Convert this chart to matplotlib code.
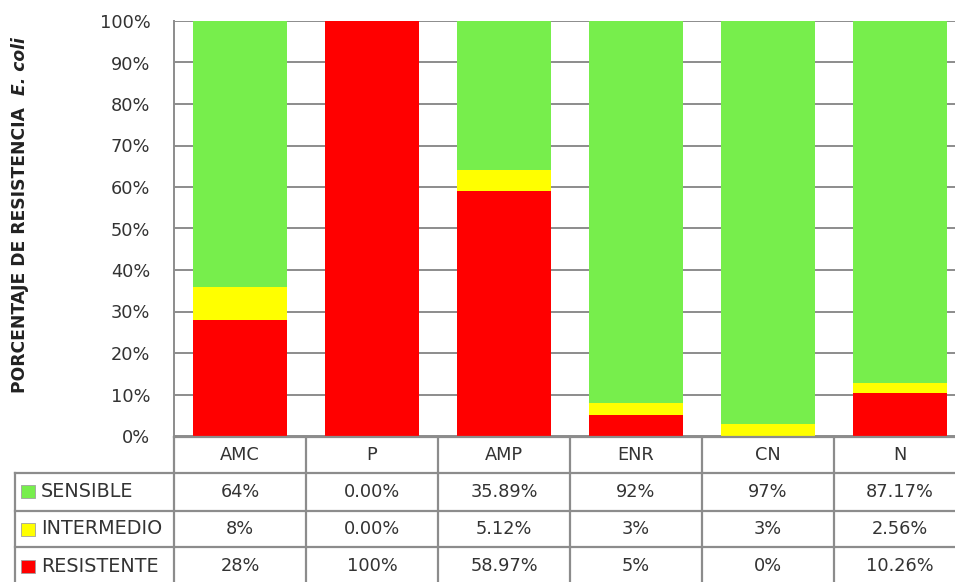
import numpy as np
import matplotlib.pyplot as plt
from matplotlib.patches import Rectangle

# datos
categorias = ['AMC', 'P', 'AMP', 'ENR', 'CN', 'N']
sensible = [64, 0.0, 35.89, 92, 97, 87.17]
intermedio = [8, 0.0, 5.12, 3, 3, 2.56]
resistente = [28, 100, 58.97, 5, 0, 10.26]
txt_sensible = ['64%', '0.00%', '35.89%', '92%', '97%', '87.17%']
txt_intermedio = ['8%', '0.00%', '5.12%', '3%', '3%', '2.56%']
txt_resistente = ['28%', '100%', '58.97%', '5%', '0%', '10.26%']
series = ['SENSIBLE', 'INTERMEDIO', 'RESISTENTE']

verde, amarillo, rojo = '#77EE4C', '#FFFF00', '#FF0000'
gris = '#8C8C8C'
texto = '#333333'

plt.rcParams['font.family'] = ['DejaVu Sans']

W, H = 955, 582
fig = plt.figure(figsize=(W / 100, H / 100), dpi=100)
ax = fig.add_axes([174 / W, 1 - 436 / H, (966 - 174) / W, (436 - 21) / H])

x = np.arange(len(categorias))
r = np.array(resistente)
i_ = np.array(intermedio)
s = np.array(sensible)
ax.bar(x, r, width=0.705, color=rojo, zorder=2)
ax.bar(x, i_, bottom=r, width=0.705, color=amarillo, zorder=2)
ax.bar(x, s, bottom=r + i_, width=0.705, color=verde, zorder=2)

ax.set_xlim(-0.5, len(categorias) - 0.5)
ax.set_ylim(0, 100)
ax.set_yticks(np.arange(0, 101, 10))
ax.set_yticklabels([f'{v}%' for v in range(0, 101, 10)], fontsize=12.8, color=texto)
ax.set_xticks([])
ax.tick_params(axis='y', length=0, pad=17)
ax.yaxis.grid(True, color=gris, lw=1.4)
ax.set_axisbelow(True)
for sp in ['top', 'right', 'bottom']:
    ax.spines[sp].set_visible(False)
ax.spines['left'].set_color(gris)
ax.spines['left'].set_linewidth(1.4)

# tabla de datos (coordenadas: x en categorias, y en pixeles)
tab = fig.add_axes([174 / W, 0, (966 - 174) / W, 1])
tab.set_xlim(-0.5, len(categorias) - 0.5)
tab.set_ylim(H, 0)
tab.axis('off')
tab.patch.set_alpha(0)

def px2x(px):
    return -0.5 + (px - 174) / 132.0

xl = px2x(15)
xr = len(categorias) - 0.5
y_head = 436.5
y_rows = [472.7, 511, 547]
y_end = 600
kw = dict(color=gris, lw=1.6, clip_on=False)
tab.plot([-0.5, xr], [y_head, y_head], **kw)
for yy in y_rows:
    tab.plot([xl, xr], [yy, yy], **kw)
tab.plot([xl, xl], [y_rows[0], y_end], **kw)
for k in range(len(categorias) + 1):
    tab.plot([k - 0.5, k - 0.5], [y_head, y_end], **kw)

fs = 12.8
y_centros = [(y_head + y_rows[0]) / 2, (y_rows[0] + y_rows[1]) / 2,
             (y_rows[1] + y_rows[2]) / 2, y_rows[2] + 19]
for j, c in enumerate(categorias):
    tab.text(j, y_centros[0], c, ha='center', va='center', fontsize=fs, color=texto)
for fila, vals in enumerate([txt_sensible, txt_intermedio, txt_resistente]):
    for j, v in enumerate(vals):
        tab.text(j, y_centros[fila + 1], v, ha='center', va='center',
                 fontsize=fs, color=texto)

for fila, (nombre, col) in enumerate(zip(series, [verde, amarillo, rojo])):
    yc = y_centros[fila + 1]
    tab.add_patch(Rectangle((px2x(21), yc - 6.5), 14 / 132.0, 13, facecolor=col,
                            edgecolor='#A0A0A0', lw=0.6, clip_on=False))
    tab.text(px2x(41), yc, nombre, ha='left', va='center', fontsize=13.8, color=texto)

# titulo del eje y
t1 = tab.text(px2x(20), 393, 'PORCENTAJE DE RESISTENCIA', rotation=90, ha='center',
              va='bottom', fontsize=12.3, fontweight='bold', color='#222222')
fig.canvas.draw()
bb = t1.get_window_extent(fig.canvas.get_renderer())
y_top = tab.transData.inverted().transform((bb.x0, bb.y1 + 12))[1]
tab.text(px2x(20), y_top, 'E. coli', rotation=90, ha='center', va='bottom',
         fontsize=12.3, fontweight='bold', style='italic', color='#222222')

fig.savefig('out.png', dpi=100)
